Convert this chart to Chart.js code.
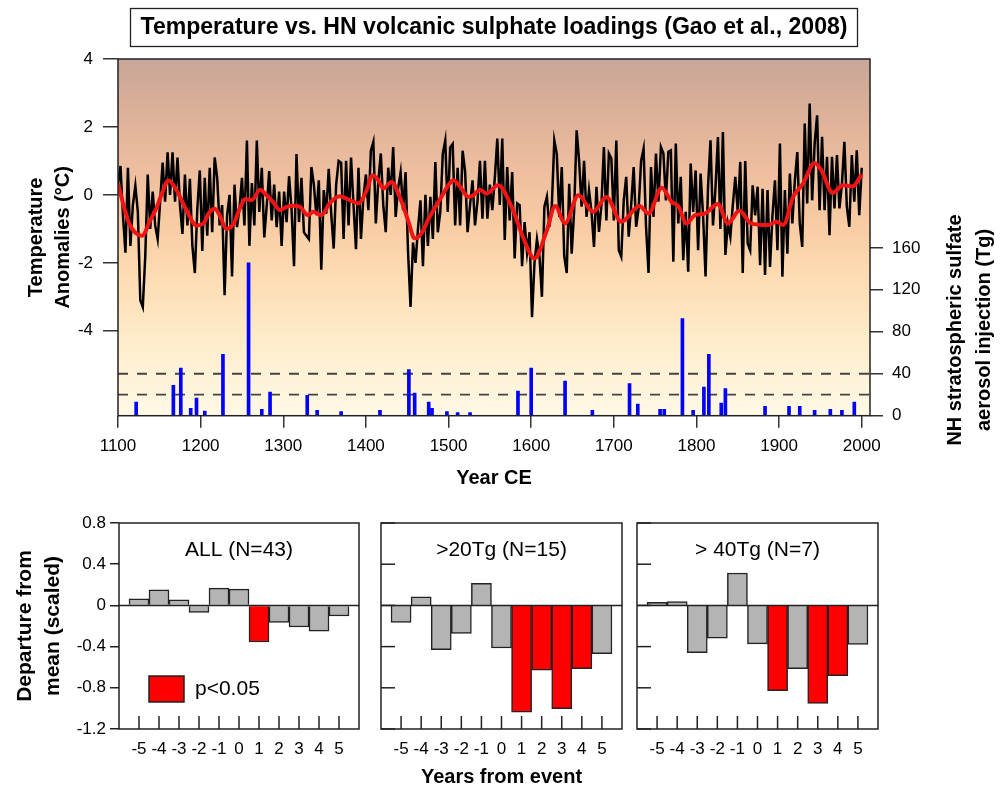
<!DOCTYPE html>
<html>
<head>
<meta charset="utf-8">
<script src="https://cdn.jsdelivr.net/npm/chart.js@4.4.1/dist/chart.umd.min.js"></script>
<style>
body { margin: 0; background: #fff; width: 1003px; height: 789px; overflow: hidden; position: relative; }
canvas { position: absolute; }
</style>
</head>
<body>
<canvas id="mainChart" width="1003" height="500" style="left:0;top:0"></canvas>
<canvas id="panelAll" width="370" height="289" style="left:0;top:500px"></canvas>
<canvas id="panel20" width="260" height="289" style="left:370px;top:500px"></canvas>
<canvas id="panel40" width="373" height="289" style="left:630px;top:500px"></canvas>
<script>
// temperature anomalies, every 3 years from 1100 to 2000
const tempStartYear = 1100;
const tempStep = 3;
const tempValues = [
    0.3, 0.85, -0.6, -1.7, 0.8, -1.5, -0.3, 0.27, -0.5, -3.1,
    -3.3, -1.8, 0.6, -1.0, 0.1, -0.9, -1.3, -0.2, 0.95, -0.2,
    1.25, 0.0, 1.25, -0.2, 1.1, -0.3, -1.15, 0.6, -0.9, 0.47,
    -1.5, -2.3, -0.4, 0.72, -1.65, 0.5, -1.2, 0.8, -1.1, 1.1,
    0.5, -0.9, -0.3, -2.95, -0.6, 0.0, -2.4, 0.3, -0.95, -0.4,
    0.5, -0.9, 1.6, -1.5, 0.35, -0.9, 1.6, -0.5, 0.8, -1.25,
    -0.3, 0.7, -0.75, 0.3, -0.95, 0.1, -1.5, 0.1, -0.8, 0.55,
    -0.4, -2.1, 1.2, -0.8, 0.5, -1.1, -1.2, -1.3, 0.82, 0.3,
    -0.6, 0.43, -2.2, 0.14, -0.55, 0.77, -0.55, -1.58, 0.3, 1.0,
    0.95, -1.3, 1.0, -0.9, 1.1, -0.3, -1.6, 0.8, -1.3, -0.06,
    0.6, -0.45, 1.3, 1.56, -0.84, 0.4, 1.22, -0.3, -1.1, 0.8,
    0.0, 1.41, -0.65, 0.2, 0.67, -0.45, 0.67, -1.68, -3.3, -1.4,
    -2.0, -1.0, -0.16, -2.1, 0.0, -1.5, -0.06, -1.3, 0.97, -1.1,
    -0.5, 1.2, 1.6, -0.5, 1.4, 1.5, -0.9, 0.8, -0.9, 1.3,
    0.7, -1.1, -0.3, 0.43, -0.9, -0.2, 1.0, -0.7, 1.0, -0.7,
    0.3, -0.45, 0.5, 1.66, -0.3, 1.66, -1.33, 0.82, -0.75, 0.67,
    -1.87, -0.25, -0.3, -2.1, -0.8, -1.7, -1.1, -3.6, -2.0, -1.3,
    -1.8, -3.0, -0.35, -0.06, -0.94, -0.3, 1.6, 1.2, -0.65, 0.82,
    -1.8, -2.3, 0.33, -1.73, -0.45, 1.9, 1.0, -0.35, 1.0, -0.65,
    0.14, -0.5, -1.53, 0.24, -1.09, -0.3, 1.41, -0.75, 1.22, 1.07,
    -0.75, 1.6, -1.63, -1.82, -0.16, 0.53, -1.23, -0.3, 0.82, -0.94,
    -0.4, 1.0, 1.36, -0.94, -2.3, 0.82, -0.65, 1.22, -0.2, 1.41,
    1.22, -0.16, 1.27, 1.31, -1.97, 1.51, -0.84, 0.53, -1.92, -0.5,
    -2.26, 0.92, -0.5, 0.72, -1.63, 0.63, -0.6, -2.4, 0.24, 1.61,
    -0.9, 0.2, 1.7, -1.0, 1.85, -1.77, -0.84, -1.23, -0.3, 0.53,
    -0.5, 0.97, -2.3, 1.0, -1.43, -1.63, 0.28, -0.6, 0.24, -2.07,
    0.18, -2.36, 0.14, -2.12, -0.6, 0.43, -1.63, 1.51, -2.41, 0.14,
    -1.73, 0.63, -0.84, 0.4, 1.26, -0.84, -1.53, 2.1, -0.25, 2.69,
    -0.16, 1.5, 2.34, -0.45, 1.71, -0.45, 1.12, -1.19, 1.12, -0.4,
    1.17, -0.4, 0.3, 1.56, -0.35, -0.94, 1.17, -0.2, 1.31, -0.6,
    0.8
];

// smoothed curve (red)
const smoothYears = [1100, 1113, 1129, 1139, 1147, 1153, 1161, 1171, 1183, 1195, 1203, 1211, 1217, 1223, 1231, 1240,
    1248, 1254, 1262, 1272, 1280, 1288, 1296, 1304, 1312, 1320, 1330, 1336, 1346, 1356, 1368, 1381, 1391, 1401,
    1408, 1415, 1421, 1431, 1441, 1451, 1459, 1467, 1477, 1489, 1501, 1506, 1514, 1524, 1530, 1538, 1546, 1560,
    1578, 1590, 1604, 1619, 1629, 1641, 1657, 1675, 1691, 1709, 1731, 1742, 1758, 1770, 1778, 1788, 1798, 1810,
    1826, 1838, 1852, 1866, 1887, 1897, 1905, 1917, 1929, 1943, 1951, 1965, 1977, 1989, 2000];
const smoothValues = [0.32, -0.81, -1.2, -0.75, -0.36, 0.03, 0.42, 0.13, -0.46, -0.9, -0.85, -0.5, -0.41, -0.6, -1.0, -0.85,
    -0.36, -0.12, -0.15, 0.15, -0.02, -0.22, -0.45, -0.35, -0.32, -0.35, -0.6, -0.5, -0.6, -0.25, -0.04, -0.16, -0.25, 0.14,
    0.58, 0.43, 0.19, 0.38, -0.06, -0.75, -1.28, -1.14, -0.65, -0.16, 0.33, 0.43, 0.24, -0.06, -0.01, 0.15, 0.04, 0.28,
    -0.45, -1.24, -1.87, -1.04, -0.33, -0.84, -0.01, -0.5, -0.06, -0.79, -0.33, -0.55, 0.21, -0.21, -0.33, -0.84, -0.6, -0.55,
    -0.27, -0.84, -0.47, -0.84, -0.89, -0.79, -0.89, -0.06, 0.33, 0.94, 0.73, 0.06, 0.28, 0.25, 0.6];

// NH stratospheric sulfate injections (Tg)
const volcYears = [1122, 1167, 1176, 1188, 1195, 1205, 1227, 1258, 1274, 1284, 1329, 1341, 1370, 1417, 1452, 1459,
    1476, 1480, 1498, 1511, 1526, 1584, 1600, 1641, 1674, 1719, 1729, 1756, 1761, 1783, 1796, 1809, 1815, 1830,
    1835, 1883, 1912, 1925, 1943, 1962, 1976, 1991];
const volcLoads = [13, 29, 45.4, 7, 16.8, 4.5, 58.5, 145.6, 6, 22.5, 19.4, 5, 4, 5, 43.9, 21.6,
    13, 7, 4, 3, 3, 23.5, 45.4, 33, 5, 30.5, 11, 6, 6, 92.5, 5, 27.3, 58.5, 12,
    25.8, 9, 9, 9, 5, 6, 5, 13];
const loadThresholds = [20, 40];

const yearTicks = [1100, 1200, 1300, 1400, 1500, 1600, 1700, 1800, 1900, 2000];
const tempTicks = [-4, -2, 0, 2, 4];
const sulfateTicks = [0, 40, 80, 120, 160];

// superposed epoch composites
const eventYears = [-5, -4, -3, -2, -1, 0, 1, 2, 3, 4, 5];
const departureTicks = [-1.2, -0.8, -0.4, 0, 0.4, 0.8];
const departAll = [0.065, 0.15, 0.055, -0.068, 0.168, 0.158, -0.355, -0.165, -0.21, -0.25, -0.103];
const signifAll = [0, 0, 0, 0, 0, 0, 1, 0, 0, 0, 0];
const depart20 = [-0.165, 0.084, -0.43, -0.272, 0.214, -0.414, -1.036, -0.628, -1.003, -0.615, -0.469];
const signif20 = [0, 0, 0, 0, 0, 0, 1, 1, 1, 1, 0];
const depart40 = [0.029, 0.036, -0.458, -0.318, 0.315, -0.373, -0.828, -0.614, -0.951, -0.682, -0.38];
const signif40 = [0, 0, 0, 0, 0, 0, 1, 0, 1, 1, 0];

const family = "'Liberation Sans', Arial, sans-serif";
const xMin = 1100, xMax = 2010;
const tickFont = { family: family, size: 17 };

// gradient behind the plot, frame, boxed title, right axis title
const plotDecor = {
    id: 'plotDecor',
    beforeDatasetsDraw(chart) {
        const { ctx, chartArea: a } = chart;
        const g = ctx.createLinearGradient(0, a.top, 0, a.bottom);
        g.addColorStop(0, '#c8a698');
        g.addColorStop(0.12, '#d8ae98');
        g.addColorStop(0.3, '#edbd9e');
        g.addColorStop(0.45, '#f8caa2');
        g.addColorStop(0.6, '#fddbb2');
        g.addColorStop(0.8, '#feedcc');
        g.addColorStop(1, '#fff9e6');
        ctx.save();
        ctx.fillStyle = g;
        ctx.fillRect(a.left, a.top, a.width, a.height);
        ctx.restore();
    },
    afterDraw(chart) {
        const { ctx, chartArea: a } = chart;
        ctx.save();
        ctx.strokeStyle = '#222';
        ctx.lineWidth = 1.5;
        ctx.strokeRect(a.left, a.top, a.width, a.height);

        // title box
        ctx.lineWidth = 1.3;
        ctx.strokeRect(130.5, 8.5, 727, 38);
        const title = 'Temperature vs. HN volcanic sulphate loadings (Gao et al., 2008)';
        ctx.font = 'bold 23px ' + family;
        const w = ctx.measureText(title).width;
        ctx.fillStyle = '#000';
        ctx.textAlign = 'center';
        ctx.textBaseline = 'middle';
        ctx.save();
        ctx.translate(494, 28);
        ctx.scale(707 / w, 1);
        ctx.fillText(title, 0, 0);
        ctx.restore();

        // right axis title reads bottom to top
        ctx.font = 'bold 20px ' + family;
        ctx.translate(955, 330);
        ctx.rotate(-Math.PI / 2);
        ctx.fillText('NH stratospheric sulfate', 0, 0);
        ctx.fillText('aerosol injection (Tg)', 0, 29);
        ctx.restore();
    }
};

new Chart(document.getElementById('mainChart'), {
    type: 'line',
    data: {
        datasets: [
            {
                label: 'smoothed',
                data: smoothYears.map((yr, i) => ({ x: yr, y: smoothValues[i] })),
                borderColor: '#f01414',
                borderWidth: 4,
                pointRadius: 0,
                cubicInterpolationMode: 'monotone',
                yAxisID: 'y',
                order: 0,
            },
            {
                label: 'annual',
                data: tempValues.map((v, i) => ({ x: tempStartYear + i * tempStep, y: v })),
                borderColor: '#000',
                borderWidth: 2.5,
                pointRadius: 0,
                tension: 0,
                yAxisID: 'y',
                order: 1,
            },
            {
                type: 'bar',
                label: 'sulfate',
                data: volcYears.map((yr, i) => ({ x: yr, y: volcLoads[i] })),
                backgroundColor: '#0000ff',
                barThickness: 3,
                yAxisID: 'y1',
                order: 2,
            },
        ].concat(loadThresholds.map((t) => ({
            label: t + ' Tg',
            data: [{ x: xMin, y: t }, { x: xMax, y: t }],
            borderColor: '#444',
            borderDash: [10, 9],
            borderWidth: 1.8,
            pointRadius: 0,
            yAxisID: 'y1',
            order: 3,
        }))),
    },
    options: {
        responsive: false,
        animation: false,
        layout: { padding: { top: 59 } },
        plugins: { legend: { display: false }, tooltip: { enabled: false } },
        scales: {
            x: {
                type: 'linear',
                min: xMin,
                max: xMax,
                offset: false,
                afterBuildTicks: (s) => { s.ticks = yearTicks.map((v) => ({ value: v })); },
                afterFit: (s) => { s.height = 84.3; },
                ticks: { callback: (v) => String(v), font: tickFont, color: '#000', padding: 8, maxRotation: 0 },
                grid: { offset: false, drawOnChartArea: false, tickLength: 12, color: '#333', lineWidth: 1.5 },
                border: { display: false },
                title: {
                    display: true,
                    text: 'Year CE',
                    color: '#000',
                    font: { family: family, size: 20, weight: 'bold', lineHeight: 1.2 },
                    padding: { bottom: 10 },
                },
            },
            y: {
                position: 'left',
                min: -6.5,
                max: 4,
                afterBuildTicks: (s) => { s.ticks = tempTicks.map((v) => ({ value: v })); },
                afterFit: (s) => { s.width = 118; },
                ticks: { callback: (v) => String(v), font: tickFont, color: '#000', padding: 10 },
                grid: { drawOnChartArea: false, tickLength: 15, color: '#333', lineWidth: 1.5 },
                border: { display: false },
                title: {
                    display: true,
                    text: ['Temperature', 'Anomalies (°C)'],
                    color: '#000',
                    font: { family: family, size: 20, weight: 'bold', lineHeight: 1.35 },
                    padding: { top: 23 },
                },
            },
            y1: {
                position: 'right',
                min: 0,
                max: 340,
                afterBuildTicks: (s) => { s.ticks = sulfateTicks.map((v) => ({ value: v })); },
                afterFit: (s) => { s.width = 133; },
                ticks: { callback: (v) => String(v), font: tickFont, color: '#000', padding: 9 },
                grid: { drawOnChartArea: false, tickLength: 13, color: '#333', lineWidth: 1.5 },
                border: { display: false },
            },
        },
    },
    plugins: [plotDecor],
});

// frame, zero line, inner ticks, panel label and legend for the composites
const panelDecor = {
    id: 'panelDecor',
    afterDatasetsDraw(chart, args, opts) {
        const { ctx, chartArea: a, scales } = chart;
        const seg = (x1, y1, x2, y2) => {
            ctx.beginPath();
            ctx.moveTo(x1, y1);
            ctx.lineTo(x2, y2);
            ctx.stroke();
        };
        ctx.save();
        ctx.strokeStyle = '#222';
        ctx.lineWidth = 1.5;
        const y0 = scales.y.getPixelForValue(0);
        seg(a.left, y0, a.right, y0);
        eventYears.forEach((v) => {
            const px = scales.x.getPixelForValue(v);
            seg(px, a.bottom, px, a.bottom - 13);
        });
        if (opts.innerY) {
            departureTicks.forEach((v) => {
                const py = scales.y.getPixelForValue(v);
                seg(a.left, py, a.left + 14, py);
            });
        }
        ctx.strokeRect(a.left, a.top, a.width, a.height);

        ctx.fillStyle = '#000';
        ctx.font = '21px ' + family;
        ctx.textAlign = 'center';
        ctx.textBaseline = 'middle';
        ctx.fillText(opts.label, (a.left + a.right) / 2, a.top + 27);

        if (opts.legend) {
            ctx.fillStyle = '#ff0000';
            ctx.fillRect(a.left + 30, a.top + 153, 35, 26);
            ctx.strokeRect(a.left + 30, a.top + 153, 35, 26);
            ctx.fillStyle = '#000';
            ctx.textAlign = 'left';
            ctx.fillText('p<0.05', a.left + 76, a.top + 166);
        }
        ctx.restore();
    }
};

function makePanel(id, values, signif, opts) {
    const showY = opts.showY;
    return new Chart(document.getElementById(id), {
        type: 'bar',
        data: {
            datasets: [{
                data: eventYears.map((yr, i) => ({ x: yr, y: values[i] })),
                backgroundColor: signif.map((s) => (s ? '#ff0000' : '#b4b4b4')),
                borderColor: '#222',
                borderWidth: 1.5,
                barPercentage: 1,
                categoryPercentage: 1,
            }],
        },
        options: {
            responsive: false,
            animation: false,
            layout: { padding: opts.padding },
            plugins: {
                legend: { display: false },
                tooltip: { enabled: false },
                panelDecor: { label: opts.label, innerY: !showY, legend: opts.legend },
            },
            scales: {
                x: {
                    type: 'linear',
                    min: -6,
                    max: 6,
                    offset: false,
                    afterBuildTicks: (s) => { s.ticks = eventYears.map((v) => ({ value: v })); },
                    afterFit: (s) => { s.height = 60; },
                    ticks: { callback: (v) => String(v), font: tickFont, color: '#000', padding: 10, maxRotation: 0 },
                    grid: { display: false, drawTicks: false, offset: false },
                    border: { display: false },
                    title: {
                        display: !!opts.xTitle,
                        text: opts.xTitle || '',
                        color: '#000',
                        font: { family: family, size: 20, weight: 'bold', lineHeight: 1.2 },
                        padding: { bottom: 0 },
                    },
                },
                y: {
                    display: showY,
                    min: -1.2,
                    max: 0.8,
                    afterBuildTicks: (s) => { s.ticks = departureTicks.map((v) => ({ value: v })); },
                    afterFit: (s) => { if (showY) s.width = 119; },
                    ticks: { callback: (v) => String(v), font: tickFont, color: '#000', padding: 4 },
                    grid: { drawOnChartArea: false, tickLength: 9, color: '#222', lineWidth: 1.5 },
                    border: { display: false },
                    title: {
                        display: showY,
                        text: ['Departure from', 'mean (scaled)'],
                        color: '#000',
                        font: { family: family, size: 21, weight: 'bold', lineHeight: 1.33 },
                        padding: { top: 11 },
                    },
                },
            },
        },
        plugins: [panelDecor],
    });
}

makePanel('panelAll', departAll, signifAll, {
    label: 'ALL (N=43)', showY: true, legend: true,
    padding: { top: 23, right: 11 },
});
makePanel('panel20', depart20, signif20, {
    label: '>20Tg (N=15)', showY: false, xTitle: 'Years from event',
    padding: { top: 23, left: 11, right: 8 },
});
makePanel('panel40', depart40, signif40, {
    label: '> 40Tg (N=7)', showY: false,
    padding: { top: 23, left: 7, right: 125 },
});
</script>
</body>
</html>
